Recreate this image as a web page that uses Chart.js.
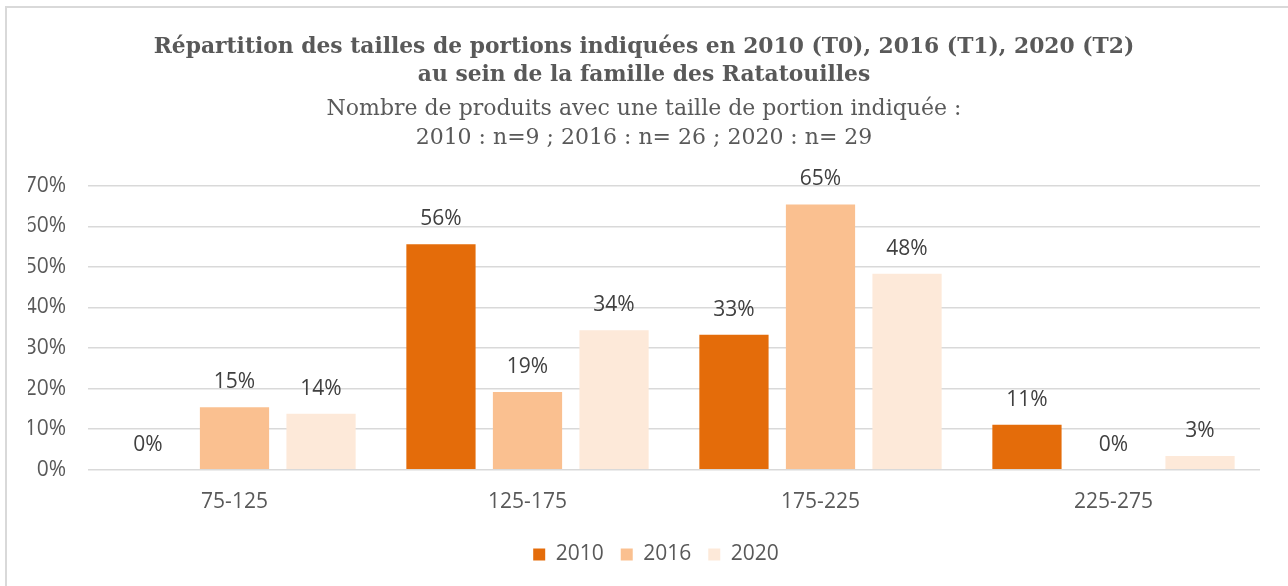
<!DOCTYPE html>
<html lang="fr">
<head>
<meta charset="utf-8">
<title>Répartition des tailles de portions</title>
<script src="https://cdn.jsdelivr.net/npm/chart.js@4/dist/chart.umd.min.js"></script>
<style>
  html, body { margin: 0; padding: 0; background: #fff; overflow: hidden; }
  #wrap { position: relative; width: 1288px; height: 586px; }
  #frame {
    position: absolute; left: 5px; top: 6px; width: 2000px; height: 2000px;
    border-top: 2px solid #d9d9d9; border-left: 2px solid #d9d9d9;
  }
  #chart { position: absolute; left: 0; top: 0; }
</style>
</head>
<body>
<div id="wrap">
  <div id="frame"></div>
  <canvas id="chart" width="1288" height="586"></canvas>
</div>
<script>
// tranches de taille de portion (g)
const categories = ['75-125', '125-175', '175-225', '225-275'];
const years = ['2010', '2016', '2020'];

// part des produits par tranche, en %
const values2010 = [0, 55.6, 33.3, 11.1];
const values2016 = [15.4, 19.2, 65.4, 0];
const values2020 = [13.8, 34.4, 48.3, 3.4];

const yTicks = [0, 10, 20, 30, 40, 50, 60, 70];

const titleLines = [
  'Répartition des tailles de portions indiquées en 2010 (T0), 2016 (T1), 2020 (T2)',
  'au sein de la famille des Ratatouilles'
];
const subtitleLines = [
  'Nombre de produits avec une taille de portion indiquée :',
  '2010 : n=9 ; 2016 : n= 26 ; 2020 : n= 29'
];

const colors = ['#E46C0A', '#FAC090', '#FDE9D9'];
const textGray = '#595959';
const sansFont = '"Open Sans", sans-serif';
const serifFont = '"DejaVu Serif", serif';

// étiquettes de valeur au-dessus de chaque barre
const valueLabels = {
  id: 'valueLabels',
  afterDatasetsDraw(chart) {
    const ctx = chart.ctx;
    ctx.save();
    ctx.font = '21px ' + sansFont;
    ctx.fillStyle = '#404040';
    ctx.textAlign = 'center';
    ctx.textBaseline = 'middle';
    chart.data.datasets.forEach((ds, i) => {
      const meta = chart.getDatasetMeta(i);
      meta.data.forEach((bar, j) => {
        ctx.fillText(Math.round(ds.data[j]) + '%', bar.x, bar.y - 25);
      });
    });
    ctx.restore();
  }
};

// la légende est centrée un peu à droite du centre du canevas
const legendShift = {
  id: 'legendShift',
  afterLayout(chart) {
    const lg = chart.legend;
    if (lg) {
      lg.left += 12;
      lg.right += 12;
    }
  }
};

new Chart(document.getElementById('chart'), {
  type: 'bar',
  data: {
    labels: categories,
    datasets: [
      { label: years[0], data: values2010, backgroundColor: colors[0] },
      { label: years[1], data: values2016, backgroundColor: colors[1] },
      { label: years[2], data: values2020, backgroundColor: colors[2] }
    ]
  },
  options: {
    responsive: false,
    animation: false,
    categoryPercentage: 0.886,
    barPercentage: 0.8,
    layout: { padding: { top: 33, left: 28, right: 28, bottom: 11 } },
    scales: {
      x: {
        grid: { display: false },
        border: { display: false },
        ticks: { color: textGray, font: { family: sansFont, size: 21 }, padding: 12 }
      },
      y: {
        min: 0,
        max: 70,
        afterBuildTicks(scale) {
          scale.ticks = yTicks.map(v => ({ value: v }));
        },
        afterFit(scale) { scale.width = 60; },
        grid: { color: '#d9d9d9', lineWidth: 1.5, drawTicks: false },
        border: { display: false },
        ticks: {
          color: textGray,
          font: { family: sansFont, size: 21 },
          padding: 22,
          callback: v => v + '%'
        }
      }
    },
    plugins: {
      title: {
        display: true,
        text: titleLines,
        color: textGray,
        font: { family: serifFont, size: 21.8, weight: 'bold', lineHeight: 1.3 },
        padding: { top: 0, bottom: 5 }
      },
      subtitle: {
        display: true,
        text: subtitleLines,
        color: textGray,
        font: { family: serifFont, size: 22, lineHeight: 1.32 },
        padding: { top: 0, bottom: 33 }
      },
      legend: {
        position: 'bottom',
        labels: {
          color: textGray,
          font: { family: sansFont, size: 21 },
          boxWidth: 12,
          boxHeight: 12,
          padding: 17
        }
      },
      tooltip: { enabled: false }
    }
  },
  plugins: [valueLabels, legendShift]
});
</script>
</body>
</html>
